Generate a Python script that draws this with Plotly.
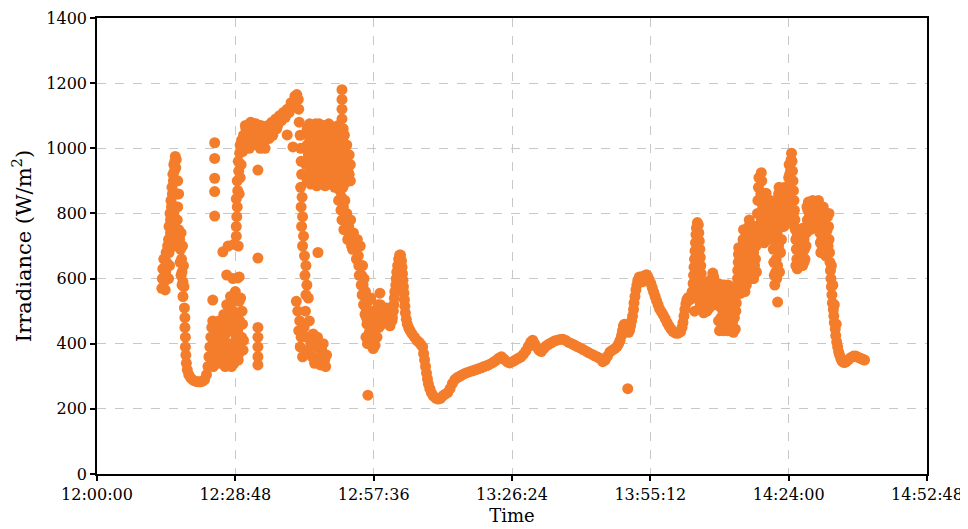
import plotly.graph_objects as go
import pandas as pd

# Each sample: (minutes after 12:00:00, irradiance in W/m2)
first_peak = [
    (13.5, 570), (13.6, 600), (13.7, 630), (13.9, 660), (14.0, 590), (14.2, 565), (14.3, 620), (14.4, 680),
    (14.6, 600), (14.8, 640), (15.0, 680), (15.2, 700),
    (14.9, 720), (15.0, 760), (15.2, 800), (15.3, 740), (15.4, 840), (15.5, 780), (15.6, 880), (15.7, 820),
    (15.8, 920), (15.9, 860), (16.0, 950), (16.1, 900), (16.3, 975), (16.4, 940), (16.5, 965), (16.6, 900),
    (16.7, 860), (16.8, 820), (16.6, 780), (16.4, 740), (16.2, 700), (16.0, 800), (15.8, 760),
    (17.0, 750), (17.2, 720), (17.4, 690), (17.5, 740), (17.6, 660), (17.7, 620), (17.8, 700), (17.9, 590),
    (18.0, 640), (18.1, 575),
    (14.1, 610), (14.5, 650), (14.7, 700), (15.1, 720), (15.3, 780), (15.5, 820), (15.7, 860), (15.9, 900),
    (16.1, 930), (16.2, 960), (16.3, 860), (16.5, 820), (16.7, 780), (16.9, 740), (17.1, 700), (17.3, 650),
    (17.5, 610), (17.7, 580), (16.8, 900), (17.0, 860), (15.1, 640), (14.9, 600),
]
first_dip = [
    (17.9, 545), (18.2, 510), (18.3, 480), (18.3, 450), (18.4, 420), (18.4, 390), (18.5, 365), (18.6, 340),
    (18.8, 320), (19.1, 305), (19.5, 295), (20.0, 288), (20.5, 285), (21.0, 283), (21.5, 283), (22.0, 285),
    (22.4, 290), (22.8, 305), (23.1, 330), (23.3, 360), (23.5, 390), (23.7, 420), (23.9, 450), (24.1, 470),
]
low_cluster = [
    (24.0, 350), (24.3, 400), (24.6, 440), (24.8, 380), (25.0, 340), (25.2, 420), (25.4, 470), (25.6, 360),
    (25.8, 400), (26.0, 450), (26.2, 340), (26.4, 490), (26.6, 380), (26.8, 430), (27.0, 520), (27.2, 350),
    (27.4, 470), (27.6, 400), (27.8, 545), (28.0, 330), (28.2, 440), (28.4, 500), (28.6, 370), (28.8, 560),
    (29.0, 420), (29.2, 480), (29.4, 350), (29.6, 530), (29.8, 400), (30.0, 460), (30.2, 500), (30.4, 380),
    (24.2, 330), (24.5, 370), (24.7, 460), (24.9, 420), (25.1, 380), (25.3, 350), (25.5, 440), (25.7, 470),
    (25.9, 340), (26.1, 410), (26.3, 380), (26.5, 440), (26.7, 330), (26.9, 480), (27.1, 400), (27.3, 440),
    (27.5, 510), (27.7, 360), (27.9, 480), (28.1, 390), (28.3, 530), (28.5, 340), (28.7, 460), (28.9, 390),
    (29.1, 540), (29.3, 440), (29.5, 370), (29.7, 470), (29.9, 540), (30.1, 420), (30.3, 460), (30.5, 410),
]
second_rise = [
    (28.3, 600), (29.6, 605), (27.3, 700), (28.5, 705), (29.4, 700), (29.0, 730), (29.0, 760), (29.1, 790),
    (29.2, 820), (29.0, 845), (29.3, 870), (29.6, 860), (29.2, 900), (29.5, 930), (29.8, 910), (29.4, 960),
    (29.7, 985), (30.0, 950), (29.8, 1010), (30.1, 1025), (30.3, 990),
]
plateau = [
    (30.5, 1040), (30.8, 1000), (31.0, 1060), (31.3, 1020), (31.6, 1070), (31.9, 1030), (32.2, 1065),
    (32.5, 1010), (32.8, 1050), (33.1, 1075), (33.4, 1030), (33.7, 1060), (34.0, 1000), (34.3, 1040),
    (34.6, 1010), (34.9, 1055), (35.2, 1030), (35.6, 1070), (36.0, 1050), (36.4, 1080), (36.8, 1060),
    (37.2, 1090), (37.6, 1070), (38.0, 1100), (38.4, 1085), (38.8, 1110), (39.2, 1095), (39.6, 1120),
    (40.0, 1110), (40.4, 1140), (40.8, 1130), (41.2, 1160), (41.6, 1165), (41.9, 1150),
    (30.6, 1010), (30.9, 1070), (31.1, 1030), (31.4, 1050), (31.7, 1000), (32.0, 1080), (32.3, 1035),
    (32.6, 1075), (32.9, 1020), (33.2, 1040), (33.5, 1070), (33.8, 1020), (34.1, 1070), (34.4, 1015),
    (34.7, 1060), (35.0, 1000), (35.4, 1040), (35.8, 1030), (36.2, 1060), (36.6, 1040), (37.0, 1070),
    (37.4, 1060), (37.8, 1080),
]
falling_column = [
    (42.0, 1120), (42.1, 1080), (42.3, 1040), (42.4, 1000), (42.5, 960), (42.6, 920), (42.4, 880),
    (42.7, 850), (42.5, 820), (42.8, 790), (42.6, 760), (43.0, 730), (42.8, 700), (43.2, 670), (43.5, 640),
    (43.3, 610), (43.7, 580), (43.5, 550), (44.0, 540),
    (41.5, 530), (41.8, 500), (42.2, 470), (42.0, 440), (42.5, 420), (42.3, 390), (42.8, 360), (43.1, 450),
    (43.4, 500), (43.6, 420), (43.9, 380), (44.2, 470), (44.5, 400), (44.8, 360), (45.0, 430), (45.3, 340),
    (45.6, 390), (45.9, 420), (46.2, 360), (46.5, 335), (46.8, 380), (47.1, 400), (47.4, 350), (47.6, 330),
    (47.8, 365),
]
dense_block = [
    (43.5, 1000), (43.5, 950), (44.0, 1040), (44.0, 980), (44.0, 920), (44.5, 1070), (44.5, 1010),
    (44.5, 950), (44.5, 890), (45.0, 1060), (45.0, 1000), (45.0, 940), (45.5, 1075), (45.5, 1020),
    (45.5, 960), (45.5, 900), (46.0, 1050), (46.0, 990), (46.0, 930), (46.5, 1070), (46.5, 1010),
    (46.5, 950), (46.5, 890), (47.0, 1040), (47.0, 980), (47.0, 920), (47.5, 1065), (47.5, 1005),
    (47.5, 945), (47.5, 885), (48.0, 1035), (48.0, 975), (48.0, 915), (48.5, 1060), (48.5, 1000),
    (48.5, 940), (48.5, 890), (49.0, 1030), (49.0, 970), (49.0, 910), (49.5, 1055), (49.5, 995),
    (49.5, 935), (49.5, 880), (50.0, 1025), (50.0, 965), (50.0, 905), (50.5, 1050), (50.5, 990),
    (50.5, 930), (51.0, 1180), (51.0, 1150), (51.0, 1120), (51.0, 1090), (51.0, 1060), (51.0, 1020),
    (51.0, 960), (51.5, 1040), (51.5, 980), (51.5, 920), (52.0, 1010), (52.0, 950), (52.0, 900),
    (52.5, 980), (52.5, 920),
    (43.75, 1060), (43.75, 1010), (43.75, 960), (43.75, 900), (44.25, 1075), (44.25, 1020), (44.25, 960),
    (44.25, 900), (44.75, 1040), (44.75, 980), (44.75, 920), (45.25, 1070), (45.25, 1030), (45.25, 970),
    (45.25, 910), (45.75, 1060), (45.75, 1000), (45.75, 940), (45.75, 885), (46.25, 1075), (46.25, 1020),
    (46.25, 960), (46.25, 900), (46.75, 1040), (46.75, 980), (46.75, 920), (47.25, 1070), (47.25, 1010),
    (47.25, 950), (47.25, 895), (47.75, 1050), (47.75, 990), (47.75, 930), (48.25, 1075), (48.25, 1015),
    (48.25, 955), (48.25, 900), (48.75, 1045), (48.75, 985), (48.75, 925), (49.25, 1065), (49.25, 1005),
    (49.25, 950), (49.25, 890), (49.75, 1040), (49.75, 980), (49.75, 920), (50.25, 1070), (50.25, 1010),
    (50.25, 950), (50.75, 1030), (50.75, 970), (50.75, 910), (51.25, 1060), (51.25, 1000), (51.25, 940),
    (51.75, 1010), (51.75, 950), (51.75, 895), (52.25, 980), (52.25, 930), (52.75, 950), (52.75, 900),
]
second_fall = [
    (50.2, 900), (50.6, 870), (50.3, 840), (50.8, 810), (51.2, 880), (51.0, 780), (51.6, 840), (51.4, 750),
    (52.0, 800), (52.4, 760), (52.2, 720), (52.8, 780), (53.0, 700), (53.4, 740), (53.8, 690), (54.2, 720),
    (54.0, 660), (54.5, 640), (54.8, 700), (54.6, 610), (55.0, 580), (55.3, 640), (55.2, 550), (55.6, 600),
    (55.5, 520), (55.9, 560), (55.8, 490), (56.2, 460), (56.4, 530), (56.6, 430), (56.9, 480), (57.0, 400),
    (57.3, 450), (57.5, 385), (57.8, 420), (56.0, 420), (56.3, 400), (57.0, 540), (57.5, 500), (58.0, 470),
    (58.5, 520), (58.9, 555), (59.2, 500), (58.7, 450), (58.3, 420), (57.9, 395),
    (50.5, 880), (50.9, 850), (51.3, 820), (51.7, 790), (52.1, 760), (52.5, 740), (52.9, 720), (53.2, 690),
    (53.6, 710), (54.0, 690), (54.4, 670), (54.8, 640), (55.1, 610), (55.4, 580), (55.7, 550), (56.0, 510),
    (56.1, 480), (56.5, 470), (56.8, 440), (57.2, 420), (57.7, 450), (58.1, 500), (58.6, 480), (59.0, 520),
    (59.3, 460),
]
afternoon_smooth = [
    (59.5, 470), (59.9, 500), (60.3, 510), (60.6, 480), (61.0, 455), (61.4, 470), (61.5, 480), (61.7, 500),
    (61.8, 520), (61.9, 540), (62.0, 560), (62.2, 580), (62.3, 600), (62.4, 620), (62.6, 640), (62.8, 660),
    (63.0, 672), (63.2, 672), (63.4, 655), (63.5, 635), (63.6, 615), (63.7, 595), (63.8, 575), (63.9, 555),
    (64.0, 535), (64.1, 515), (64.2, 495), (64.4, 475), (64.6, 460), (64.9, 448), (65.2, 440), (65.6, 430),
    (66.1, 420), (66.6, 410), (67.0, 405), (67.4, 398), (67.8, 390), (68.0, 370), (68.2, 350), (68.4, 330),
    (68.6, 310), (68.8, 292), (69.0, 276), (69.3, 262), (69.6, 250), (70.0, 240), (70.5, 233), (71.0, 230),
    (71.5, 232), (72.0, 240), (72.5, 245), (73.0, 250), (73.5, 262), (74.0, 278), (74.5, 290), (75.0, 296),
    (75.5, 300), (76.0, 304), (76.5, 308), (77.0, 311), (77.6, 314), (78.2, 317), (78.8, 320), (79.4, 323),
    (80.0, 326), (80.6, 330), (81.2, 333), (81.8, 337), (82.4, 342), (83.0, 348), (83.6, 355), (84.2, 360),
    (84.8, 352), (85.4, 344), (85.9, 341), (86.5, 345), (87.1, 350), (87.7, 355), (88.3, 360), (88.8, 368),
    (89.3, 378), (89.8, 392), (90.3, 405), (90.7, 411), (91.1, 400), (91.5, 390), (92.0, 380), (92.5, 376),
    (93.0, 385), (93.5, 393), (94.0, 398), (94.6, 403), (95.2, 408), (95.8, 411), (96.4, 413), (97.0, 414),
    (97.6, 410), (98.2, 404), (98.8, 400), (99.4, 396), (100.0, 391), (100.6, 387), (101.2, 382),
    (101.8, 377), (102.4, 372), (103.0, 368), (103.6, 363), (104.2, 359), (104.7, 355), (105.3, 345),
    (105.8, 350), (106.3, 362), (106.8, 375), (107.3, 380), (107.8, 385), (108.3, 392), (108.6, 400),
    (108.9, 410), (109.2, 425), (109.4, 440), (109.6, 455), (109.8, 460), (110.1, 450), (110.4, 440),
    (110.7, 435), (110.9, 442), (111.1, 455), (111.3, 470), (111.5, 485), (111.7, 505), (111.8, 525),
    (112.0, 545), (112.2, 565), (112.4, 580), (112.6, 595), (112.9, 605), (113.2, 600), (113.5, 590),
    (113.8, 608), (114.1, 598), (114.4, 612), (114.7, 605), (115.0, 595), (115.3, 585), (115.6, 572),
    (115.9, 558), (116.2, 545), (116.5, 532), (116.8, 520), (117.1, 508), (117.5, 498), (117.9, 488),
    (118.3, 477), (118.7, 465), (119.1, 454), (119.5, 445), (119.9, 438), (120.3, 434), (120.7, 432),
    (121.1, 433), (121.5, 437), (121.8, 450), (122.0, 465), (122.2, 485), (122.4, 505), (122.6, 522),
    (122.8, 535), (123.1, 542), (123.4, 535), (123.7, 545),
]
late_spikes = [
    (123.9, 560), (124.1, 585), (124.2, 610), (124.3, 635), (124.4, 660), (124.5, 685), (124.6, 710),
    (124.7, 735), (124.8, 755), (125.0, 772), (125.2, 765), (125.3, 740), (125.4, 715), (125.5, 690),
    (125.6, 665), (125.7, 640), (125.8, 615), (125.9, 590), (126.0, 565), (126.1, 540), (126.2, 515),
    (126.3, 495), (124.4, 500), (124.6, 540), (124.9, 600), (125.1, 680), (125.3, 560), (125.6, 520),
    (126.5, 515), (126.8, 535), (127.1, 520), (127.4, 540), (127.6, 560), (127.8, 580), (128.0, 600),
    (128.2, 617), (128.4, 605), (128.6, 585), (128.8, 560), (129.0, 540), (129.2, 520), (127.0, 500),
    (127.5, 510), (126.4, 560), (126.7, 580), (127.2, 590), (127.9, 530), (128.3, 560), (128.7, 520),
    (129.1, 580),
    (129.3, 585), (129.5, 550), (129.7, 515), (129.9, 480), (130.1, 450), (130.3, 500), (130.5, 560),
    (130.7, 580), (130.9, 530), (131.1, 470), (131.3, 440), (131.5, 490), (131.7, 545), (131.9, 575),
    (132.1, 520), (132.3, 465), (132.5, 435), (132.7, 480), (132.9, 445), (133.0, 500),
    (129.4, 470), (129.6, 440), (129.8, 560), (130.0, 520), (130.2, 580), (130.4, 440), (130.6, 480),
    (130.8, 460), (131.0, 560), (131.2, 510), (131.4, 580), (131.6, 450), (131.8, 470), (132.0, 440),
    (132.2, 560), (132.4, 530), (132.6, 560), (132.8, 520),
    (133.1, 525), (133.2, 550), (133.3, 575), (133.35, 600), (133.4, 625), (133.5, 650), (133.55, 675),
    (133.6, 695), (133.7, 670), (133.8, 640), (133.9, 610), (134.0, 580), (134.1, 555),
    (134.2, 600), (134.3, 640), (134.4, 680), (134.5, 720), (134.6, 750), (134.8, 710), (135.0, 660),
    (135.1, 620), (135.2, 580), (135.4, 630), (135.5, 680), (135.6, 720), (135.7, 760), (135.8, 780),
    (136.0, 740), (136.1, 700), (136.2, 660), (136.3, 620), (136.5, 600), (136.6, 640), (136.7, 680),
    (136.8, 720), (136.9, 760), (137.1, 740), (137.2, 700),
    (134.3, 560), (134.5, 600), (134.7, 640), (134.9, 560), (135.1, 740), (135.3, 700), (135.5, 600),
    (135.7, 640), (135.9, 700), (136.1, 600), (136.3, 760), (136.5, 720), (136.7, 600), (136.9, 640),
    (137.1, 660), (137.3, 620),
    (137.4, 760), (137.5, 800), (137.6, 840), (137.7, 880), (137.8, 910), (137.9, 760), (138.0, 720),
    (138.1, 800), (138.2, 860), (138.3, 925), (138.4, 900), (138.5, 860), (138.6, 820), (138.7, 780),
    (138.8, 740), (138.9, 710), (139.0, 760),
    (137.5, 720), (137.7, 760), (137.9, 840), (138.1, 720), (138.3, 780), (138.5, 740), (138.7, 860),
    (138.9, 800),
    (139.1, 800), (139.2, 840), (139.3, 862), (139.5, 830), (139.6, 790), (139.7, 750), (139.8, 720),
    (140.0, 760), (140.1, 800), (140.2, 840), (140.4, 810), (140.5, 770), (140.6, 730),
    (139.2, 740), (139.4, 800), (139.7, 840), (140.0, 820), (140.3, 740), (140.6, 800),
    (140.8, 690), (140.9, 650), (141.0, 610), (141.1, 580), (141.3, 620), (141.4, 660), (141.5, 700),
    (141.6, 740), (141.7, 780), (141.8, 820), (141.9, 860), (142.0, 880), (142.2, 840), (142.3, 800),
    (142.4, 760), (142.5, 720), (142.6, 760), (142.8, 800), (142.9, 770), (143.0, 820), (143.1, 850),
    (143.2, 880), (143.4, 840), (143.5, 800),
    (140.9, 760), (141.1, 720), (141.3, 820), (141.5, 600), (141.7, 640), (141.9, 700), (142.1, 620),
    (142.3, 680), (142.0, 760), (142.7, 860), (143.0, 760), (143.3, 790), (143.5, 870),
    (143.7, 790), (143.8, 830), (143.9, 870), (144.0, 910), (144.1, 950), (144.2, 920), (144.3, 880),
    (144.4, 930), (144.5, 965), (144.6, 985), (144.7, 960), (144.8, 930), (144.9, 900), (145.0, 870),
    (145.1, 840), (145.2, 810), (145.3, 780), (144.2, 800), (144.8, 800),
    (143.8, 780), (144.0, 850), (144.3, 830), (144.6, 870), (145.0, 800), (145.2, 760),
    (145.4, 750), (145.5, 720), (145.6, 690), (145.7, 660), (145.8, 630), (146.0, 660), (146.1, 700),
    (146.2, 740), (146.4, 710), (146.5, 670), (146.6, 640), (146.8, 680), (146.9, 720), (147.0, 755),
    (147.2, 720), (147.3, 690), (147.4, 660), (147.6, 700), (147.7, 740),
    (145.5, 640), (145.8, 730), (146.1, 650), (146.3, 680), (146.6, 720), (146.9, 640), (147.2, 650),
    (147.5, 740),
    (147.9, 780), (148.0, 810), (148.1, 835), (148.3, 800), (148.4, 770), (148.5, 750), (148.7, 785),
    (148.8, 820), (149.0, 840), (149.2, 805), (149.3, 770), (149.5, 755), (149.7, 790), (149.8, 825),
    (150.0, 835), (150.2, 800), (150.3, 770),
    (147.8, 820), (148.2, 760), (148.6, 810), (149.1, 770), (149.4, 820), (149.9, 780), (150.2, 840),
    (150.5, 740), (150.6, 710), (150.7, 680), (150.9, 720), (151.0, 760), (151.1, 800), (151.2, 820),
    (151.4, 780), (151.5, 740), (151.6, 700), (151.7, 670), (151.9, 710), (152.0, 750), (152.1, 790),
    (152.3, 760), (152.4, 720), (152.5, 680),
    (150.6, 780), (150.8, 760), (151.0, 700), (151.3, 720), (151.6, 790), (151.8, 740), (152.2, 700),
    (152.4, 800),
    (152.6, 650), (152.7, 625), (152.8, 600), (152.9, 575), (153.0, 550), (153.1, 525), (153.3, 505),
    (153.4, 485), (153.5, 465), (153.7, 445), (153.8, 425), (154.0, 405), (154.2, 390), (154.4, 375),
    (154.6, 365), (152.9, 640), (153.2, 580), (153.5, 520), (153.9, 460),
    (154.9, 352), (155.2, 345), (155.6, 342), (156.0, 345), (156.5, 352), (157.0, 358), (157.5, 362),
    (158.0, 362), (158.5, 358), (159.0, 355), (159.4, 352), (159.8, 350),
]
isolated = [
    (24.5, 1017), (24.5, 969), (24.5, 908), (24.5, 867), (24.5, 792), (24.1, 534), (26.2, 682),
    (27.0, 611), (29.3, 602), (33.5, 933), (33.5, 663), (33.5, 450), (33.5, 420), (33.5, 390),
    (33.5, 360), (33.5, 335), (39.6, 1041), (40.8, 1004), (46.0, 680), (56.4, 242), (110.5, 262),
    (141.7, 528),
]

segments = [first_peak, first_dip, low_cluster, second_rise, plateau, falling_column, dense_block,
            second_fall, afternoon_smooth, late_spikes, isolated]
samples = [p for seg in segments for p in seg]

base = pd.Timestamp("2024-01-01 12:00:00")
x_vals = [base + pd.Timedelta(minutes=m) for m, _ in samples]
y_vals = [v for _, v in samples]

x_start = base
x_end = base + pd.Timedelta(minutes=172.8)
x_step_ms = 28.8 * 60 * 1000

ORANGE = "#F47D2C"
FONT = "DejaVu Serif, Liberation Serif, serif"

fig = go.Figure()
fig.add_trace(go.Scatter(
    x=x_vals, y=y_vals, mode="markers",
    marker=dict(size=11, color=ORANGE, line=dict(width=0)),
    showlegend=False, hoverinfo="skip",
))

axis_common = dict(
    showline=True, linecolor="black", linewidth=1.5, mirror=True,
    ticks="outside", ticklen=5, tickwidth=1.5, tickcolor="black",
    showgrid=True, gridcolor="#c8c8c8", gridwidth=1, griddash="dash",
    zeroline=False, tickfont=dict(family=FONT, size=16, color="black"),
)

fig.update_xaxes(
    type="date", range=[x_start, x_end], tick0=x_start, dtick=x_step_ms,
    tickformat="%H:%M:%S",
    title=dict(text="Time", font=dict(family=FONT, size=18, color="black"), standoff=6),
    automargin=False,
    **axis_common,
)
fig.update_yaxes(
    range=[0, 1400], dtick=200, tick0=0,
    title=dict(text="Irradiance (W/m<sup>2</sup>)", font=dict(family=FONT, size=21, color="black"), standoff=10),
    automargin=False,
    **axis_common,
)

# page body has an 8px margin, so the plot area is offset accordingly
fig.update_layout(
    width=968, height=529,
    margin=dict(l=89, r=49, t=10, b=63),
    plot_bgcolor="white", paper_bgcolor="white",
    font=dict(family=FONT, color="black"),
)

fig.write_html("out.html")
